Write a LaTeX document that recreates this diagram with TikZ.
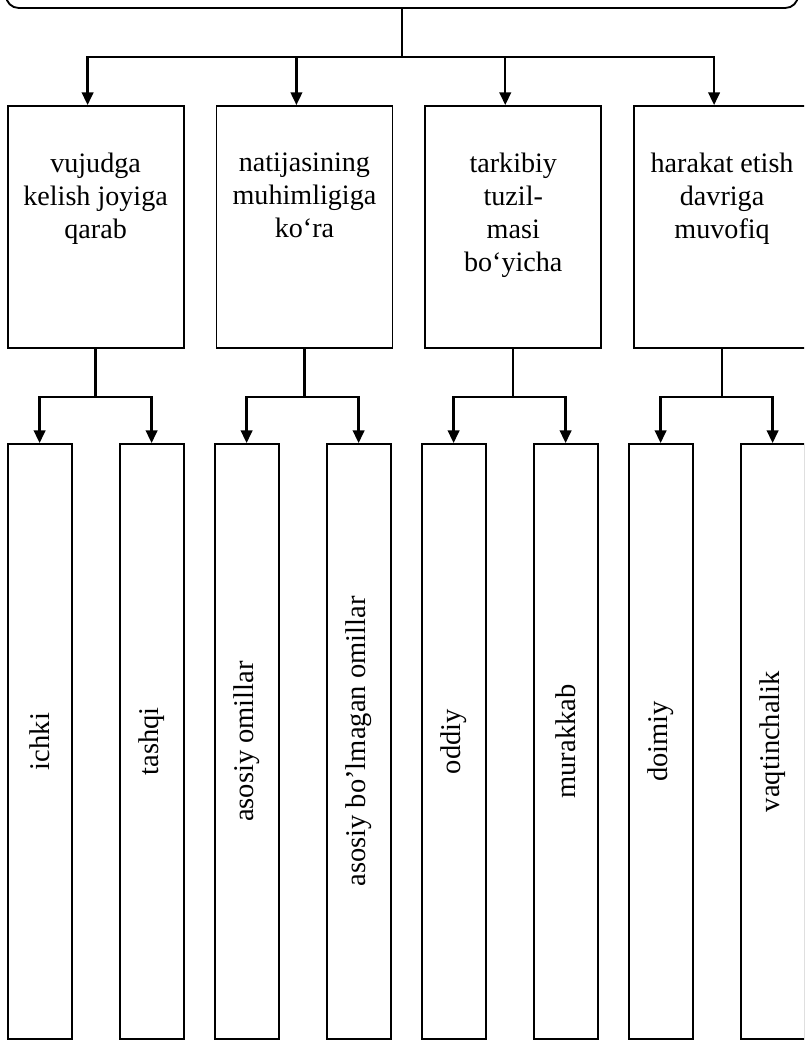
\documentclass[tikz,border=0pt]{standalone}
\usepackage{fontspec}
\setmainfont{Liberation Serif}
\usepackage{tikz}
\usetikzlibrary{arrows.meta, positioning}
\tikzset{
  %% ---- boxes ----
  rootbox/.style = {rectangle, rounded corners=9pt, draw, line width=1.3pt,
                    minimum width=19.8cm, minimum height=2cm},
  catbox/.style  = {rectangle, draw, line width=1.3pt,
                    minimum width=4.4cm, minimum height=6.05cm},
  cattext/.style = {align=center, inner sep=0pt,
                    font={\fontsize{20}{23.3}\selectfont}},
  leaf/.style    = {rectangle, draw, line width=1.3pt, rotate=90,
                    minimum width=14.875cm, minimum height=1.6cm,
                    font={\fontsize{20.3}{23.3}\selectfont}},
  %% ---- arrows ----
  stem/.style    = {line width=1.6pt},
  arr/.style     = {-{Triangle[length=0.32cm, width=0.29cm]}, line width=1.6pt},
}

\begin{document}
\begin{tikzpicture}[node distance = 1.2cm and 0.775cm]
\useasboundingbox (0,0) rectangle (20.1,-26.05);
\clip (0,0) rectangle (20.1,-26.05);

% top box (cut by the page edge)
\node[rootbox] (root) at (10.05,0.8) {};

% second level
\node[catbox]                      (b1) at (2.39,-5.675) {};
\node[catbox, right=0.775cm of b1] (b2) {};
\node[catbox, right=0.775cm of b2] (b3) {};
\node[catbox, right=0.775cm of b3] (b4) {};

\node[cattext, below=of b1.north] (t1) {vujudga\\kelish joyiga\\qarab};
\node[cattext, below=of b2.north] (t2) {natijasining\\muhimligiga\\ko‘ra};
\node[cattext, below=of b3.north] (t3) {tarkibiy\\tuzil-\\masi\\bo‘yicha};
\node[cattext, below=of b4.north] (t4) {harakat etish\\davriga\\muvofiq};

% third level (rotated: east anchor is the top side)
\node[leaf] (c11) at (0.99,-18.5375)   {ichki};
\node[leaf] (c12) at (3.79,-18.5375)   {tashqi};
\node[leaf] (c21) at (6.165,-18.5375)  {asosiy omillar};
\node[leaf] (c22) at (8.965,-18.5375)  {asosiy bo’lmagan omillar};
\node[leaf] (c31) at (11.34,-18.5375)  {oddiy};
\node[leaf] (c32) at (14.14,-18.5375)  {murakkab};
\node[leaf] (c41) at (16.515,-18.5375) {doimiy};
\node[leaf] (c42) at (19.315,-18.5375) {vaqtinchalik};

% connectors
\draw[stem] (root.south) -- ++(0,-1.2) coordinate (hub);
\draw[arr] (hub) -| ([xshift=-2mm]b1.north);
\draw[arr] (hub) -| ([xshift=-2mm]b2.north);
\draw[arr] (hub) -| ([xshift=-2mm]b3.north);
\draw[arr] (hub) -| ([xshift=-2mm]b4.north);

\draw[stem] (b1.south) -- ++(0,-1.2) coordinate (h1);
\draw[stem] (b2.south) -- ++(0,-1.2) coordinate (h2);
\draw[stem] (b3.south) -- ++(0,-1.2) coordinate (h3);
\draw[stem] (b4.south) -- ++(0,-1.2) coordinate (h4);
\draw[arr] (h1) -| (c11.east);
\draw[arr] (h1) -| (c12.east);
\draw[arr] (h2) -| (c21.east);
\draw[arr] (h2) -| (c22.east);
\draw[arr] (h3) -| (c31.east);
\draw[arr] (h3) -| (c32.east);
\draw[arr] (h4) -| (c41.east);
\draw[arr] (h4) -| (c42.east);
\end{tikzpicture}
\end{document}
